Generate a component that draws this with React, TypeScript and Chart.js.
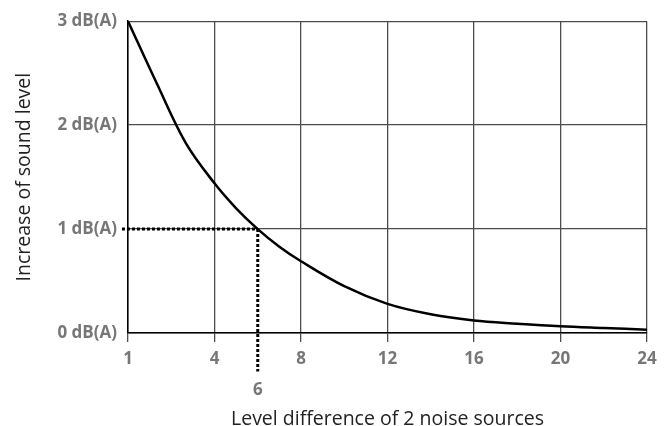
import React, { useEffect, useRef } from "react";
import { Chart, registerables } from "chart.js";

Chart.register(...registerables);

// Level difference of 2 noise sources (dB) and resulting increase of sound level (dB(A))
const levelDifference = [1, 2, 3, 4, 5, 6, 7, 8, 10, 12, 14, 16, 18, 20, 22, 24];
const soundIncrease = [3.0, 2.4, 1.83, 1.44, 1.2, 1.0, 0.83, 0.69, 0.45, 0.28, 0.18, 0.12, 0.09, 0.065, 0.048, 0.032];

const xTickLabels = [1, 4, 6, 8, 12, 16, 20, 24];
const yTickValues = [0, 1, 2, 3];
const markedDifference = 6;
const markedIncrease = 1;

const xTitle = "Level difference of 2 noise sources";
const yTitle = "Increase of sound level";

// The axis is drawn with equally spaced gridlines at 1, 4, 8, 12, ... 24
const pos = (d: number) => (d <= 4 ? (d - 1) / 3 : d / 4);

const FONT = "'Open Sans', 'DejaVu Sans', sans-serif";
const GRID = "#4d4d4d";

export default function App() {
  const ref = useRef<HTMLCanvasElement | null>(null);
  useEffect(() => {
    if (!ref.current) return;
    const markPos = pos(markedDifference);
    const chart = new Chart(ref.current, {
      type: "line",
      data: {
        datasets: [
          {
            data: levelDifference.map((d, i) => ({ x: pos(d), y: soundIncrease[i] })),
            borderColor: "#000",
            borderWidth: 2.5,
            pointRadius: 0,
            tension: 0.35,
            fill: false,
          },
          {
            data: [
              { x: pos(1) - 0.07, y: markedIncrease },
              { x: markPos, y: markedIncrease },
            ],
            borderColor: "#000",
            borderWidth: 3,
            borderDash: [3, 2],
            pointRadius: 0,
            clip: false,
          },
          {
            data: [
              { x: markPos, y: markedIncrease },
              { x: markPos, y: -0.37 },
            ],
            borderColor: "#000",
            borderWidth: 3,
            borderDash: [3, 2],
            pointRadius: 0,
            clip: false,
          },
        ] as any,
      },
      options: {
        animation: false,
        responsive: false,
        maintainAspectRatio: false,
        layout: { padding: { left: 0, top: 21, right: 22, bottom: 0 } },
        plugins: { legend: { display: false }, tooltip: { enabled: false } },
        scales: {
          x: {
            type: "linear",
            min: 0,
            max: 6,
            afterBuildTicks: (scale: any) => {
              scale.ticks = xTickLabels.map((v) => ({ value: pos(v) }));
            },
            afterFit: (scale: any) => {
              scale.height = 93;
            },
            ticks: {
              autoSkip: false,
              maxRotation: 0,
              padding: 2,
              color: "#777",
              font: { family: FONT, size: 17, weight: "bold", lineHeight: 1.82 },
              callback: (value: any) => {
                const idx = xTickLabels.findIndex((v) => Math.abs(pos(v) - value) < 1e-6);
                if (idx < 0) return "";
                const lab = xTickLabels[idx];
                return lab === markedDifference ? ["", String(lab)] : String(lab);
              },
            },
            grid: {
              color: (ctx: any) =>
                ctx.tick && Math.abs(ctx.tick.value - markPos) < 1e-6 ? "rgba(0,0,0,0)" : GRID,
              tickColor: (ctx: any) =>
                ctx.tick && Math.abs(ctx.tick.value - markPos) < 1e-6 ? "rgba(0,0,0,0)" : GRID,
              lineWidth: 1.3,
              tickLength: 9,
            },
            border: { color: "#000", width: 1.5 },
            title: {
              display: true,
              text: xTitle,
              color: "#222",
              font: { family: FONT, size: 19.5, weight: "normal" },
              padding: { top: 0, bottom: -5 },
            },
          },
          y: {
            type: "linear",
            min: 0,
            max: 3,
            afterBuildTicks: (scale: any) => {
              scale.ticks = yTickValues.map((v) => ({ value: v }));
            },
            afterFit: (scale: any) => {
              scale.width = 128;
            },
            ticks: {
              padding: 11,
              color: "#777",
              font: { family: FONT, size: 17, weight: "bold" },
              callback: (value: any) => `${value} dB(A)`,
            },
            grid: { color: GRID, lineWidth: 1.3, drawTicks: false },
            border: { color: "#000", width: 1.5 },
            title: {
              display: true,
              text: yTitle,
              color: "#222",
              font: { family: FONT, size: 19.5, weight: "normal" },
              padding: { top: 13, bottom: 0 },
            },
          },
        },
      } as any,
    });
    return () => chart.destroy();
  }, []);
  return (
    <div style={{ position: "absolute", left: 0, top: 0, width: 669, height: 426, background: "#fff" }}>
      <canvas ref={ref} width={669} height={426} style={{ width: 669, height: 426 }} />
    </div>
  );
}
